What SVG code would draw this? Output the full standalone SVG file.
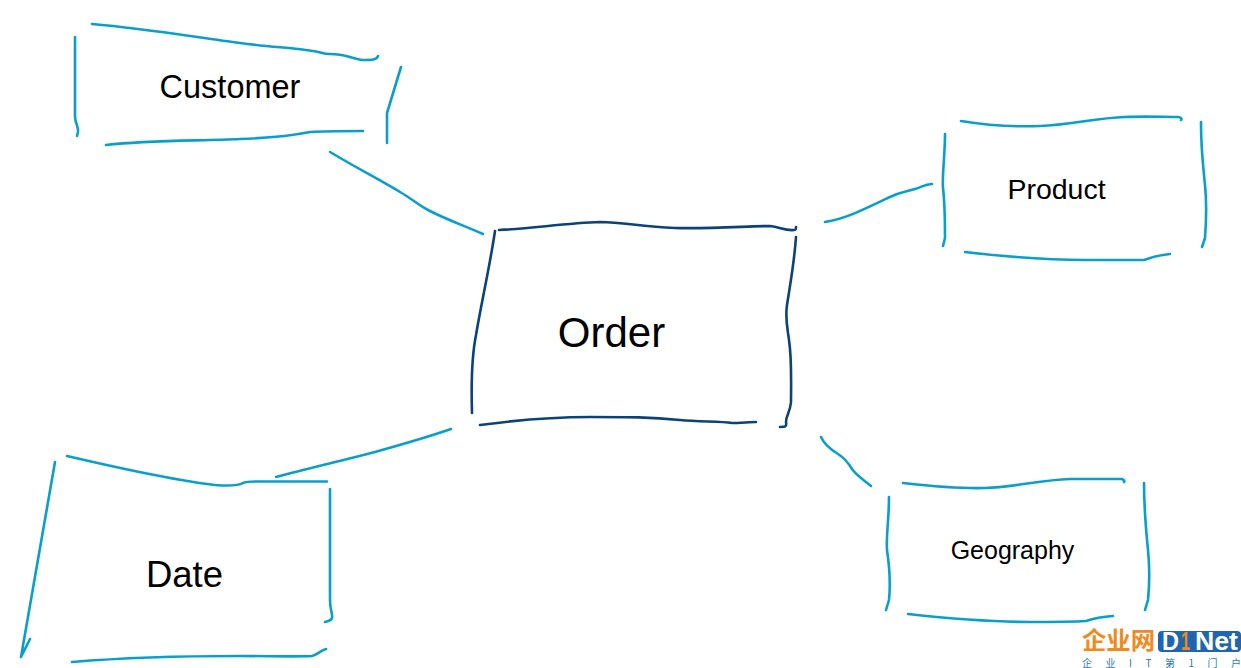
<svg xmlns="http://www.w3.org/2000/svg" width="1241" height="668" viewBox="0 0 1241 668">
<style>
.s{fill:none;stroke:#0a9fcb;stroke-width:2.6;stroke-linecap:round;stroke-linejoin:round}
.o{fill:none;stroke:#0b4279;stroke-width:2.6;stroke-linecap:round;stroke-linejoin:round}
.t{font-family:"Liberation Sans",Arial,sans-serif;fill:#000;text-anchor:middle}
.c{font-family:"Noto Sans CJK SC",sans-serif}
.l{font-family:"Liberation Sans",Arial,sans-serif;font-weight:700}
</style>
<rect width="1241" height="668" fill="#fff"/>
<g id="connectors">
<path class="s" d="M330 152C355 167 380 180 400 192C412 199 420 206 428 210C445 219 465 226 483 234"/>
<path class="s" d="M825 222C845 219 865 209 890 197C900 192 905 192 915 189C922 187 925 184 932 184"/>
<path class="s" d="M276 477C310 468 345 460 375 452C400 445 425 438 451 429"/>
<path class="s" d="M821 437C824 444 830 449 838 454C846 459 849 464 852 469C857 476 864 480 871 486"/>
</g>
<g id="customer">
<path class="s" d="M92 24C150 29 200 38 240 43C270 47 295 48 313 51C322 52 322 54 330 54C345 54 350 58 362 60C372 60 377 60 378 56"/>
<path class="s" d="M75 37V116C75 124 79 127 78 132L77 136"/>
<path class="s" d="M401 67L387 113V143"/>
<path class="s" d="M106 145C150 140 200 141 240 139C270 138 290 136 310 132C325 131 340 131 363 131"/>
<text class="t" x="230" y="98" font-size="32.500">Customer</text>
</g>
<g id="order">
<path class="o" d="M499 230C530 229 565 223 600 222C625 222 640 227 675 228C710 229 750 226 770 226C780 227 785 231 794 230C796 230 796 229 796 227"/>
<path class="o" d="M495 231C490 265 482 300 476 335C472 355 471 380 472 413"/>
<path class="o" d="M796 237C794 265 790 285 787 305C785 318 787 325 789 340C792 360 791 385 791 402C790 413 786 415 786 422C787 427 785 427 780 427"/>
<path class="o" d="M480 425C510 421 550 417 590 417C630 417 650 417 680 420C700 422 720 421 732 423C740 423 750 422 756 422"/>
<text class="t" x="611.500" y="347" font-size="42">Order</text>
</g>
<g id="product">
<path class="s" d="M961 121C985 125 1015 127 1040 126C1070 125 1095 118 1125 117C1145 116 1165 117 1178 117C1181 117 1182 119 1181 120"/>
<path class="s" d="M945 134C945 155 942 175 943 188C945 205 945 225 945 238L943 246"/>
<path class="s" d="M1201 122C1201 150 1203 165 1205 185C1207 205 1206 225 1205 238L1202 247"/>
<path class="s" d="M965 252C1000 256 1050 260 1085 260C1110 260 1130 260 1144 260C1150 258 1158 255 1170 254"/>
<text class="t" x="1056.500" y="199" font-size="28.500">Product</text>
</g>
<g id="date">
<path class="s" d="M67 456C110 466 170 480 215 485C228 486 238 486 243 483C247 481 255 481.500 262 481.500H327"/>
<path class="s" d="M55 462L21 657L30 639"/>
<path class="s" d="M330 489V600C330 610 333 615 332 618C331 621 328 621 325 622"/>
<path class="s" d="M72 662C120 658 180 656 240 656C270 656 295 657 312 656C317 655 320 651 326 649"/>
<text class="t" x="184.500" y="587" font-size="36.500">Date</text>
</g>
<g id="geography">
<path class="s" d="M903 483C930 486 960 489 985 488C1015 487 1040 480 1070 479C1090 479 1110 479 1122 479C1124 480 1125 481 1124 482"/>
<path class="s" d="M889 497C889 520 886 535 887 550C890 570 890 590 889 600L886 610"/>
<path class="s" d="M1144 483C1144 510 1146 530 1148 550C1150 570 1149 590 1148 600L1145 610"/>
<path class="s" d="M908 614C945 618 990 622 1030 622C1050 622 1070 622 1086 621C1092 619 1100 617 1113 616"/>
<text class="t" x="1012.500" y="559" font-size="25">Geography</text>
</g>
<g id="logo">
<text class="c" x="1082" y="649" font-size="24" font-weight="700" fill="#f08a1d" textLength="73" lengthAdjust="spacingAndGlyphs">企业网</text>
<rect x="1158" y="631" width="83" height="21" rx="4" fill="#1f66ae"/>
<text class="l" x="1162" y="650" font-size="26" fill="#fff" textLength="17" lengthAdjust="spacingAndGlyphs">D</text>
<text class="l" x="1181" y="650" font-size="26" fill="#f08a1d" textLength="9" lengthAdjust="spacingAndGlyphs">1</text>
<text class="l" x="1195" y="650" font-size="26" fill="#fff" textLength="43" lengthAdjust="spacingAndGlyphs">Net</text>
<text class="c" x="1082" y="667" font-size="10" fill="#2b79b5" textLength="159">企 业 I T 第 1 门 户</text>
</g>
</svg>
